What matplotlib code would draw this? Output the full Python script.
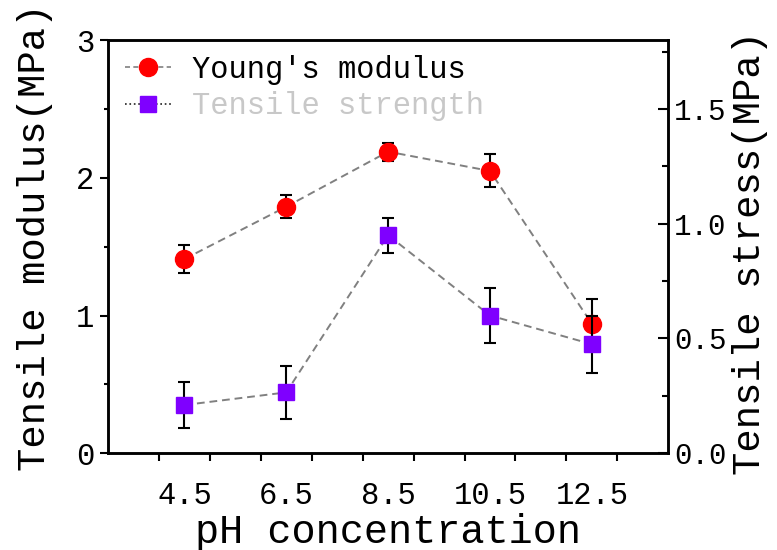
import matplotlib
matplotlib.use('Agg')
import matplotlib.pyplot as plt
from matplotlib.lines import Line2D

plt.rcParams['font.family'] = ['Liberation Mono', 'DejaVu Sans Mono']

# data
ph = [4.5, 6.5, 8.5, 10.5, 12.5]
ph_labels = ['4.5', '6.5', '8.5', '10.5', '12.5']
modulus = [1.41, 1.79, 2.19, 2.05, 0.94]
modulus_err = [0.10, 0.085, 0.065, 0.12, 0.18]
strength = [0.21, 0.265, 0.95, 0.60, 0.475]
strength_err = [0.10, 0.117, 0.077, 0.118, 0.125]

red = '#ff0000'
purple = '#7f00ff'
dash_grey = '#808080'

fig = plt.figure(figsize=(7.77, 5.5), dpi=100)
ax = fig.add_axes([0.139, 0.176, 0.721, 0.751])
ax2 = ax.twinx()

# Young's modulus on left axis
ax.plot(ph, modulus, color=dash_grey, lw=1.4, dashes=(4, 2.5), zorder=1)
ax.errorbar(ph, modulus, yerr=modulus_err, fmt='o', color=red, ms=13,
            ecolor='black', elinewidth=1.5, capsize=4.5, capthick=1.5, zorder=2)

# tensile strength on right axis
ax2.plot(ph, strength, color=dash_grey, lw=1.4, dashes=(4, 2.5), zorder=1)
ax2.errorbar(ph, strength, yerr=strength_err, fmt='s', color=purple, ms=11,
             ecolor='black', elinewidth=1.5, capsize=4.5, capthick=1.5, zorder=2)

ax.set_xlim(3, 14)
ax.set_ylim(0, 3)
ax2.set_ylim(0, 1.8)

# tick marks at integers, labels at the data positions
ax.set_xticks(range(4, 14))
ax.set_xticklabels([])
ax.set_xticks(ph, ph_labels, minor=True)
ax.tick_params(axis='x', which='major', direction='out', length=6, width=1.5)
ax.tick_params(axis='x', which='minor', length=0, pad=20, labelsize=22)

ax.set_yticks([0, 1, 2, 3])
ax.set_yticks([0.5, 1.5, 2.5], minor=True)
ax.tick_params(axis='y', which='major', direction='out', length=6, width=1.5, labelsize=22, pad=4)
ax.tick_params(axis='y', which='minor', direction='out', length=3, width=1.5)

ax2.set_yticks([0.0, 0.5, 1.0, 1.5])
ax2.set_yticklabels(['0.0', '0.5', '1.0', '1.5'])
ax2.set_yticks([0.25, 0.75, 1.25, 1.75], minor=True)
ax2.tick_params(axis='y', which='major', direction='in', length=7, width=1.5, labelsize=21, pad=4)
ax2.tick_params(axis='y', which='minor', direction='in', length=4, width=1.5)

for a in (ax, ax2):
    for s in a.spines.values():
        s.set_linewidth(1.8)

ax.set_xlabel('pH concentration', fontsize=29)
ax.xaxis.label.set_va('baseline')
ax.xaxis.set_label_coords(0.5, -0.218)

ax.set_ylabel('Tensile modulus(MPa)', fontsize=28, ha='center', va='center')
ax.yaxis.set_label_coords(-0.130, 0.523)
ax2.set_ylabel('Tensile stress(MPa)', fontsize=28, ha='center', va='center', rotation=90)
ax2.yaxis.set_label_coords(1.146, 0.484)

handles = [
    Line2D([], [], color=dash_grey, lw=1.2, dashes=(3, 2), marker='o', ms=13,
           markerfacecolor=red, markeredgecolor=red),
    Line2D([], [], color='#202020', lw=1.2, linestyle=':', marker='s', ms=11,
           markerfacecolor=purple, markeredgecolor=purple),
]
leg = ax2.legend(handles, ["Young's modulus", 'Tensile strength'], loc='upper left',
                 bbox_to_anchor=(0.03, 0.965), frameon=False, fontsize=22,
                 borderpad=0, borderaxespad=0, handlelength=1.5,
                 handletextpad=0.7, labelspacing=0.22)
leg.get_texts()[0].set_color('black')
leg.get_texts()[1].set_color('#c8c8c8')

fig.savefig('out.png', dpi=100)
